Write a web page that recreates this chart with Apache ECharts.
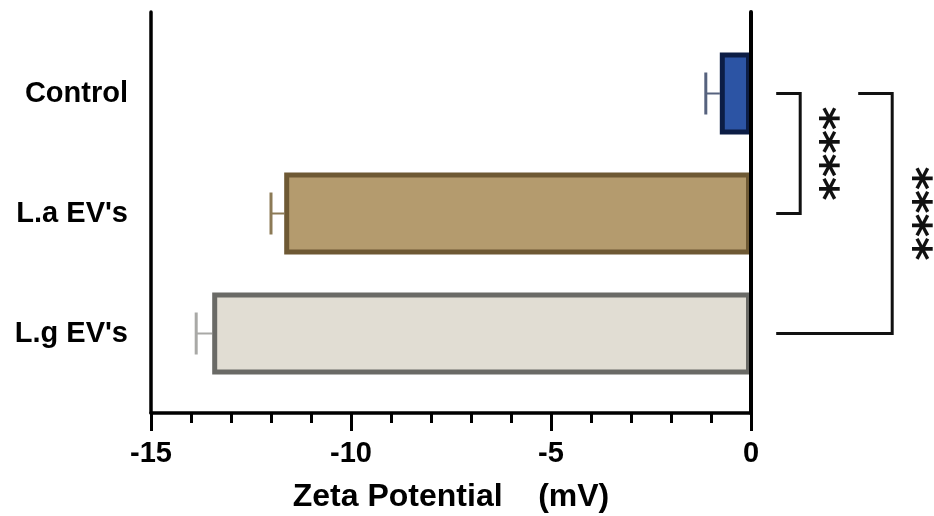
<!DOCTYPE html>
<html><head><meta charset="utf-8">
<script src="https://cdn.jsdelivr.net/npm/echarts@6/dist/echarts.min.js"></script>
<style>html,body{margin:0;padding:0;background:#fff}#c{width:934px;height:516px}</style>
</head><body><div id="c"></div>
<script>
// Zeta potential per sample (mean and SD, mV)
const categories = ['Control', "L.a EV's", "L.g EV's"];
const means = [-0.78, -11.67, -13.47];
const sds = [0.35, 0.33, 0.4];
const xTicks = [-15, -10, -5, 0];
const xTitle = 'Zeta Potential    (mV)';
// significance comparisons between categories
const comparisons = [
  { from: 0, to: 1, label: '****' },
  { from: 0, to: 2, label: '****' }
];

const fillColors = ['#2c54a4', '#b49b6e', '#e1ddd3'];
const edgeColors = ['#0c1d45', '#6e5934', '#6a6a66'];
const errColors  = ['#56627e', '#8c7a56', '#a9a9a6'];

const FONT = '"Liberation Sans", Arial, sans-serif';
const chart = echarts.init(document.getElementById('c'));

const axisLineStyle = { color: '#000', width: 3.5 };

chart.setOption({
  animation: false,
  backgroundColor: '#fff',
  grid: [
    { left: 151, right: 183, top: 12, bottom: 103 },
    { left: 151, right: 183, top: 33.5, height: 360 }
  ],
  xAxis: [
    {
      gridIndex: 0, type: 'value', min: xTicks[0], max: xTicks[xTicks.length - 1], interval: 5,
      z: 10,
      axisLine: { show: true, onZero: false, lineStyle: axisLineStyle },
      axisTick: { show: true, length: 18, lineStyle: { color: '#000', width: 3 } },
      minorTick: { show: true, splitNumber: 5, length: 10, lineStyle: { color: '#000', width: 3 } },
      axisLabel: { margin: 26, fontFamily: FONT, fontWeight: 'bold', fontSize: 29, color: '#000' },
      splitLine: { show: false }
    },
    { gridIndex: 1, type: 'value', min: -15, max: 0, show: false }
  ],
  yAxis: [
    {
      gridIndex: 0, type: 'value', min: 0, max: 1, position: 'left', z: 10,
      axisLine: { show: true, onZero: false, lineStyle: axisLineStyle },
      axisTick: { show: false }, axisLabel: { show: false }, splitLine: { show: false }
    },
    {
      gridIndex: 0, type: 'value', min: 0, max: 1, position: 'right', z: 10,
      axisLine: { show: true, onZero: false, lineStyle: { color: '#000', width: 4 } },
      axisTick: { show: false }, axisLabel: { show: false }, splitLine: { show: false }
    },
    {
      gridIndex: 1, type: 'category', inverse: true, data: categories,
      axisLine: { show: false },
      axisTick: { show: true, alignWithLabel: true, length: 14, lineStyle: { color: '#000', width: 3.5 } },
      axisLabel: { margin: 23, fontFamily: FONT, fontWeight: 'bold', fontSize: 29, color: '#000' },
      splitLine: { show: false }
    }
  ],
  series: [
    {
      type: 'custom', xAxisIndex: 1, yAxisIndex: 2, z: 1,
      data: means.map((m, i) => [m, sds[i], i]),
      renderItem: function (params, api) {
        const i = api.value(2);
        const start = api.coord([api.value(0), i]);
        const end = api.coord([api.value(0) - api.value(1), i]);
        const col = errColors[i];
        return {
          type: 'group',
          children: [
            { type: 'line', shape: { x1: start[0], y1: start[1], x2: end[0], y2: end[1] },
              style: { stroke: col, lineWidth: 2 } },
            { type: 'line', shape: { x1: end[0], y1: end[1] - 21, x2: end[0], y2: end[1] + 21 },
              style: { stroke: col, lineWidth: 3 } }
          ]
        };
      }
    },
    {
      type: 'bar', xAxisIndex: 1, yAxisIndex: 2, barWidth: 82, z: 2,
      data: means.map((m, i) => ({
        value: m,
        itemStyle: { color: fillColors[i], borderColor: edgeColors[i], borderWidth: 5 }
      }))
    }
  ]
});

// axis title, centred under the value axis
function px(x, cat) { return chart.convertToPixel({ gridIndex: 1 }, [x, cat]); }
const axisMid = (px(xTicks[0], 0)[0] + px(xTicks[xTicks.length - 1], 0)[0]) / 2;
const graphics = [{
  type: 'text', x: axisMid, y: 497,
  style: {
    text: xTitle, align: 'center', verticalAlign: 'middle',
    font: 'bold 32px "Liberation Sans", Arial, sans-serif', fill: '#000'
  }
}];

// significance brackets drawn to the right of the zero line
const bracketStart = 0.63;
const bracketEnds = [1.23, 3.53];
const bracketTopStarts = [0.63, 2.68];
const labelX = [1.98, 4.31];
comparisons.forEach((c, k) => {
  const a = px(bracketTopStarts[k], c.from);
  const b = px(bracketEnds[k], c.from);
  const d = px(bracketEnds[k], c.to);
  const e = px(bracketStart, c.to);
  graphics.push({
    type: 'polyline',
    shape: { points: [[a[0], a[1]], [b[0], b[1]], [d[0], d[1]], [e[0], e[1]]] },
    style: { stroke: '#111', lineWidth: 3, fill: null }
  });
  const xs = px(labelX[k], c.from)[0];
  const ym = (px(0, c.from)[1] + px(0, c.to)[1]) / 2;
  graphics.push({
    type: 'text', x: xs - 12, y: ym, rotation: -Math.PI / 2,
    style: {
      text: c.label, x: 0, y: 0, align: 'center', verticalAlign: 'middle',
      font: 'bold 45px "DejaVu Sans", sans-serif', fill: '#111'
    }
  });
});
chart.setOption({ graphic: graphics });
</script>
</body></html>
